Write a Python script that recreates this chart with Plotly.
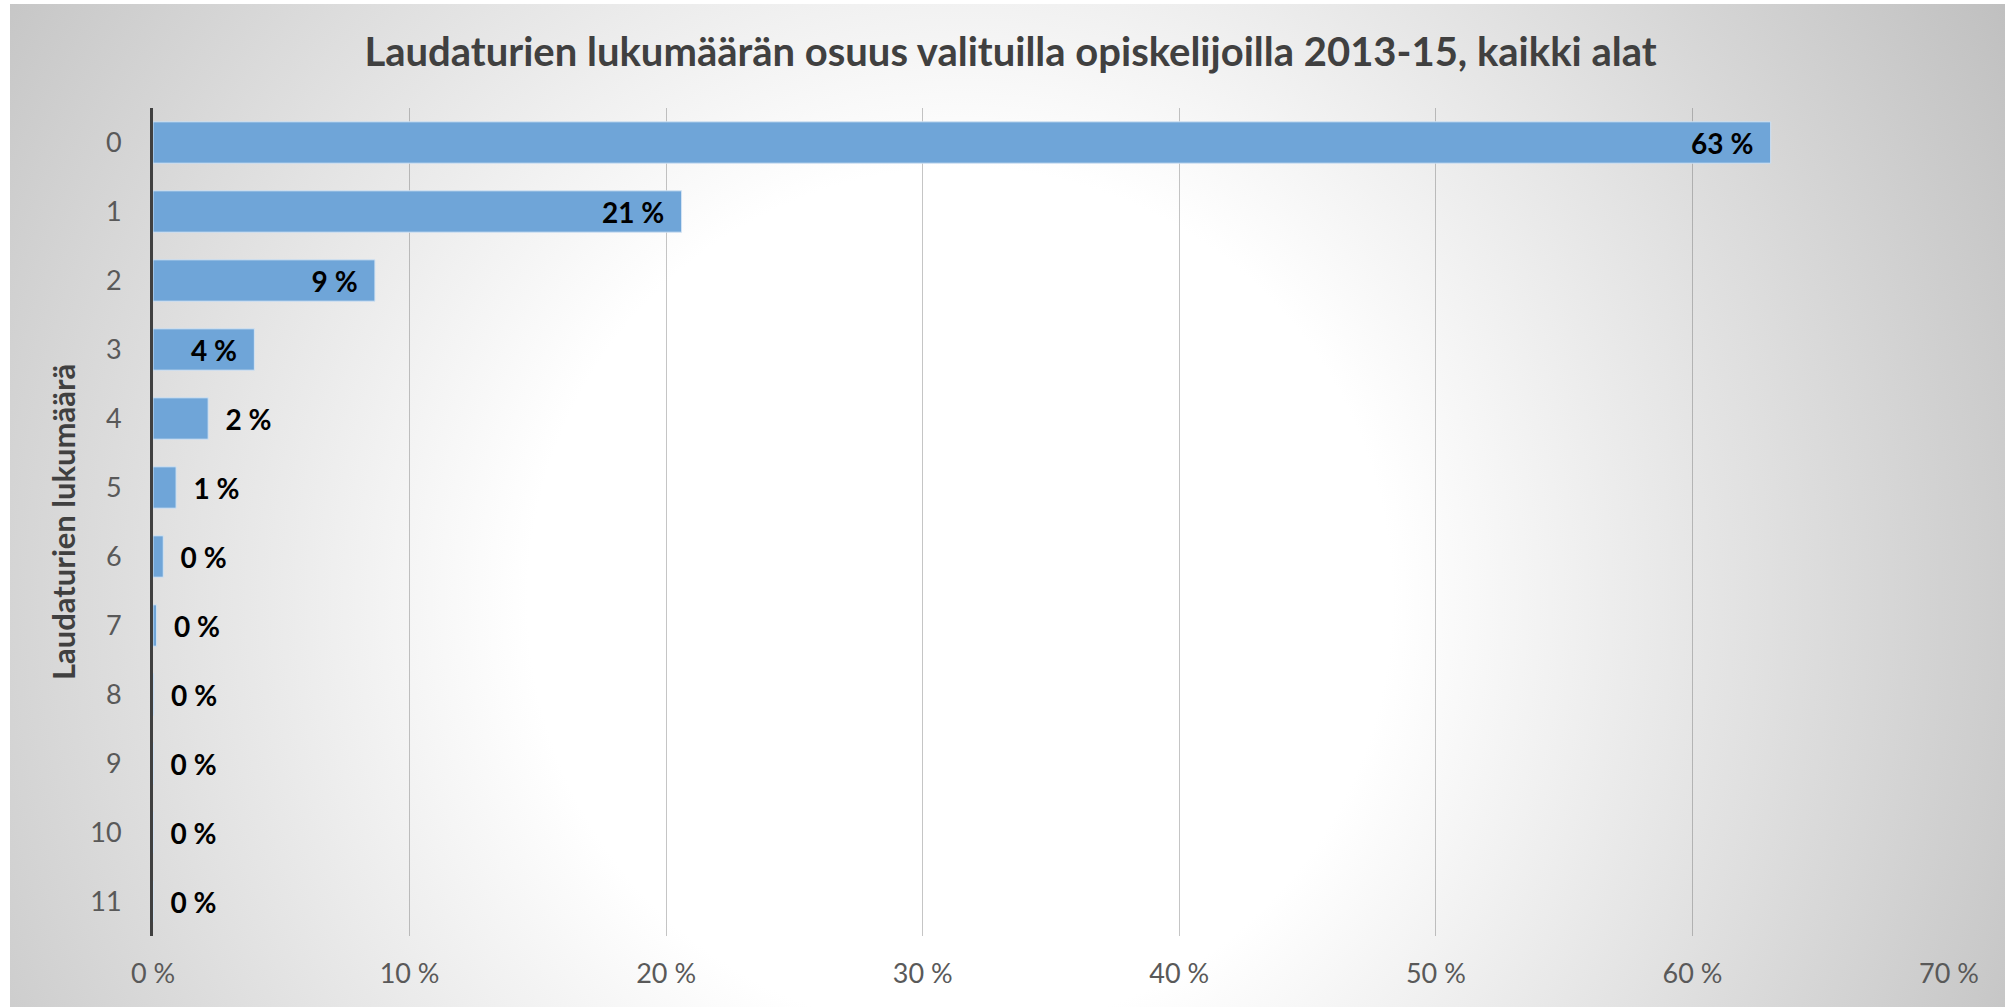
import base64
import plotly.graph_objects as go

# ---- data ----
categories = ["0", "1", "2", "3", "4", "5", "6", "7", "8", "9", "10", "11"]
shares = [63.05, 20.6, 8.65, 3.95, 2.15, 0.9, 0.4, 0.14, 0.03, 0.01, 0.005, 0.002]
x_ticks = [0, 10, 20, 30, 40, 50, 60, 70]
x_tick_labels = ["0 %", "10 %", "20 %", "30 %", "40 %", "50 %", "60 %", "70 %"]

title_text = "Laudaturien lukumäärän osuus valituilla opiskelijoilla 2013-15, kaikki alat"
y_title = "Laudaturien lukumäärä"

W, H = 2005, 1007
ML, MR, MT, MB = 153, 56, 108, 71
PW, PH = W - ML - MR, H - MT - MB

# radial gradient background (chart area x 10..2005, y 4..1007)
CA_X0, CA_Y0 = 10, 4
CA_W, CA_H = W - CA_X0, H - CA_Y0
svg = f'''<svg xmlns="http://www.w3.org/2000/svg" width="{CA_W}" height="{CA_H}" viewBox="0 0 {CA_W} {CA_H}" preserveAspectRatio="none">
<defs><radialGradient id="g" gradientUnits="userSpaceOnUse" cx="950" cy="596" r="1200">
<stop offset="0" stop-color="#ffffff"/><stop offset="0.36" stop-color="#ffffff"/>
<stop offset="1" stop-color="#c0c0c0"/></radialGradient></defs>
<rect x="0" y="0" width="{CA_W}" height="{CA_H}" fill="url(#g)"/></svg>'''
svg_uri = "data:image/svg+xml;base64," + base64.b64encode(svg.encode()).decode()

FONT = "Lato"
LBL = 28

positions = ["inside" if v >= 3 else "outside" for v in shares]
templates = ["<b>%{x:.0f} %</b>\u00a0\u00a0" if v >= 3 else "\u00a0\u00a0<b>%{x:.0f} %</b>" for v in shares]

fig = go.Figure()
fig.add_trace(go.Bar(
    x=shares,
    y=categories,
    orientation="h",
    marker=dict(color="#6fa5d8", line=dict(color="#d2e3f3", width=1)),
    texttemplate=templates,
    textposition=positions,
    insidetextanchor="end",
    constraintext="none",
    cliponaxis=False,
    textfont=dict(family=FONT, size=LBL, color="#000000"),
    insidetextfont=dict(family=FONT, size=LBL, color="#000000"),
    outsidetextfont=dict(family=FONT, size=LBL, color="#000000"),
    hoverinfo="skip",
))

fig.update_layout(
    width=W, height=H,
    margin=dict(l=ML, r=MR, t=MT, b=MB, autoexpand=False),
    paper_bgcolor="#ffffff",
    plot_bgcolor="rgba(0,0,0,0)",
    bargap=0.4,
    showlegend=False,
    title=dict(
        text=f"<b>{title_text}</b>",
        x=0.504, xanchor="center", xref="container",
        y=1 - 52 / H, yanchor="middle", yref="container",
        font=dict(family=FONT, size=40, color="#404040"),
    ),
    images=[dict(
        source=svg_uri, xref="paper", yref="paper",
        x=(CA_X0 - ML) / PW, y=(H - MB - CA_Y0) / PH,
        sizex=CA_W / PW, sizey=CA_H / PH,
        xanchor="left", yanchor="top", sizing="stretch", layer="below",
    )],
    xaxis=dict(
        range=[0, 70],
        tickvals=x_ticks,
        ticktext=x_tick_labels,
        showgrid=True, gridcolor="rgba(90,90,90,0.35)", gridwidth=1,
        zeroline=False, showline=False,
        ticks="outside", ticklen=14, tickcolor="rgba(0,0,0,0)",
        tickfont=dict(family=FONT, size=27, color="#595959"),
        automargin=False, fixedrange=True,
    ),
    yaxis=dict(
        type="category",
        autorange="reversed",
        showgrid=False, zeroline=False,
        showline=True, linecolor="#404040", linewidth=3,
        ticks="outside", ticklen=23, tickcolor="rgba(0,0,0,0)",
        tickfont=dict(family=FONT, size=27, color="#595959"),
        title=dict(text=f"<b>{y_title}</b>", standoff=6,
                   font=dict(family=FONT, size=31, color="#404040")),
        automargin=False, fixedrange=True,
    ),
)

fig.write_html("out.html", config={"displayModeBar": False})
